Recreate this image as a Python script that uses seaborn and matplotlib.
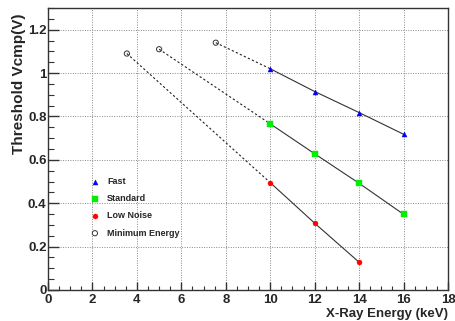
import matplotlib
matplotlib.use("Agg")
import matplotlib.pyplot as plt
from matplotlib.ticker import MultipleLocator
import seaborn as sns
import pandas as pd

energy = [10, 12, 14, 16]
fast = [1.02, 0.915, 0.818, 0.718]
standard = [0.766, 0.628, 0.492, 0.349]
low_energy = [10, 12, 14]
low_noise = [0.495, 0.308, 0.128]
min_energy_x = [3.55, 5.0, 7.55]
min_energy_y = [1.09, 1.11, 1.14]
labels = ["Fast", "Standard", "Low Noise", "Minimum Energy"]

sns.set_style("white")
plt.rcParams['font.family'] = ['Liberation Sans', 'DejaVu Sans']
plt.rcParams['font.weight'] = 'bold'

fig = plt.figure(figsize=(4.56, 3.21), dpi=100)
ax = fig.add_axes([48/456, 1 - 290/321, 400/456, 282/321])

df = pd.DataFrame({
    "x": energy + energy + low_energy,
    "y": fast + standard + low_noise,
    "series": ["Fast"] * 4 + ["Standard"] * 4 + ["Low Noise"] * 3,
})

# dashed connectors from minimum energy to first point
firsts = [(low_energy[0], low_noise[0]), (energy[0], standard[0]), (energy[0], fast[0])]
for (mx, my), (fx, fy) in zip(zip(min_energy_x, min_energy_y), firsts):
    sns.lineplot(x=[mx, fx], y=[my, fy], ax=ax, color="#222222", lw=0.8,
                 linestyle=(0, (2, 2)), legend=False)

# solid lines
for s in ["Fast", "Standard", "Low Noise"]:
    sub = df[df.series == s]
    sns.lineplot(data=sub, x="x", y="y", ax=ax, color="#333333", lw=0.8, legend=False)

ms = 13
sns.scatterplot(x=energy, y=fast, ax=ax, marker="^", color="blue", s=ms, edgecolor="blue", linewidth=0.3, zorder=5, label="Fast")
sns.scatterplot(x=energy, y=standard, ax=ax, marker="s", color="#00ee00", s=ms, edgecolor="#00ee00", linewidth=0.3, zorder=5, label="Standard")
sns.scatterplot(x=low_energy, y=low_noise, ax=ax, marker="o", color="red", s=ms, edgecolor="red", linewidth=0.3, zorder=5, label="Low Noise")
sns.scatterplot(x=min_energy_x, y=min_energy_y, ax=ax, marker="o", facecolor="none", edgecolor="#333333", s=14, linewidth=0.7, zorder=5, label="Minimum Energy")

ax.set_xlim(0, 18)
ax.set_ylim(0, 1.3)
ax.xaxis.set_major_locator(MultipleLocator(2))
ax.xaxis.set_minor_locator(MultipleLocator(0.5))
ax.yaxis.set_minor_locator(MultipleLocator(0.05))
ax.set_yticks([0, 0.2, 0.4, 0.6, 0.8, 1.0, 1.2])
ax.set_yticklabels(["0", "0.2", "0.4", "0.6", "0.8", "1", "1.2"])
ax.tick_params(axis="x", which="major", direction="in", length=6, width=1, labelsize=9.5, pad=3)
ax.tick_params(axis="x", which="minor", direction="in", length=3, width=0.8)
ax.tick_params(axis="y", which="major", direction="in", length=8, width=1, labelsize=9.5, pad=1)
ax.tick_params(axis="y", which="minor", direction="in", length=4.3, width=0.8)
ax.tick_params(axis="both", which="both", top=False, right=False, bottom=True, left=True, color="#333333")
for lab in ax.get_xticklabels() + ax.get_yticklabels():
    lab.set_fontweight("bold")

ax.grid(True, which="major", color="#888888", linestyle=(0, (1, 1.5)), lw=0.7)
for sp in ax.spines.values():
    sp.set_color("#333333")
    sp.set_linewidth(1)

ax.set_xlabel("X-Ray Energy (keV)", fontsize=9.5, fontweight="bold", loc="right", labelpad=1)
ax.set_ylabel("Threshold Vcmp(V)", fontsize=11, fontweight="bold")
ax.yaxis.set_label_coords(-0.056, 0.73)

leg = ax.legend(loc="upper left", bbox_to_anchor=(0.106, 0.40), frameon=False,
                handlelength=1.0, handletextpad=0.85, labelspacing=0.9,
                borderaxespad=0, borderpad=0, markerscale=1.0,
                prop={"weight": "bold", "size": 6.5})

fig.savefig("out.png", dpi=100)
